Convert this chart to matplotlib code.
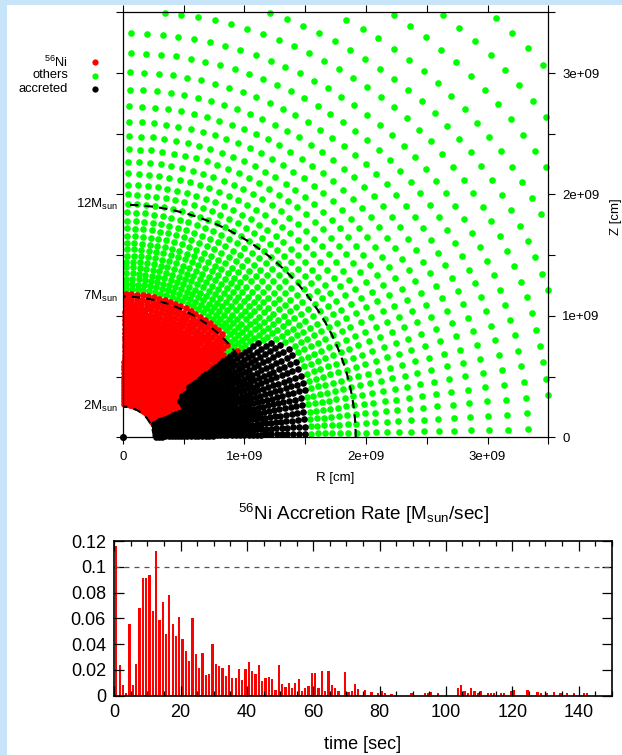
import numpy as np
import matplotlib.pyplot as plt
from matplotlib.patches import Arc, Rectangle
from matplotlib.lines import Line2D

plt.rcParams['font.family'] = ['Liberation Sans', 'DejaVu Sans']
plt.rcParams['mathtext.fontset'] = 'custom'
plt.rcParams['mathtext.rm'] = 'Liberation Sans'
plt.rcParams['mathtext.it'] = 'Liberation Sans:italic'

# ---- top panel: particle shells (radii in 1e9 cm), 40 rays per shell ----
shell_r = [0.275, 0.30, 0.325, 0.35, 0.375, 0.40, 0.425, 0.45, 0.475, 0.50,
           0.53, 0.56, 0.59, 0.62, 0.65, 0.68, 0.71, 0.74, 0.77, 0.80,
           0.83, 0.86, 0.895, 0.93, 0.965, 1.00, 1.035, 1.07, 1.105, 1.14,
           1.18, 1.222, 1.264, 1.308, 1.352, 1.401, 1.448, 1.497, 1.55, 1.602,
           1.66, 1.72, 1.783, 1.852, 1.923, 2.0, 2.08, 2.173, 2.27, 2.374,
           2.481, 2.599, 2.726, 2.863, 3.009, 3.166, 3.331, 3.515, 3.70, 3.90,
           4.13, 4.365, 4.62]
n_rays = 40

# per ray (from the R axis upward): accreted range and outer edge of 56Ni
acc_lo = [0] * 11 + [0.55, 0.55, 0.55, 0.56, 0.58, 0.68] + [9] * 23
acc_hi = [1.50] * 6 + [1.55] * 3 + [1.60] * 2 + [1.55, 1.55, 1.50, 1.45, 1.40, 1.15] + [0] * 23
ni_hi = [1.18] * 17 + [1.10, 1.14, 1.16] + [1.18] * 20

mass_labels = ['2M$_{\\rm sun}$', '7M$_{\\rm sun}$', '12M$_{\\rm sun}$']
mass_r = [0.252, 1.16, 1.915]

# ---- bottom panel: 56Ni accretion rate ----
t_sec = [0, 1, 2, 3, 4, 5, 6, 7, 8, 9, 10, 11, 12, 13, 14, 15, 16, 17, 18, 19,
         20, 21, 22, 23, 24, 25, 26, 27, 28, 29, 30, 31, 32, 33, 34, 35, 36, 37, 38, 39,
         40, 41, 42, 43, 44, 45, 46, 47, 48, 49, 50, 51, 52, 53, 54, 55, 56, 57, 58, 59,
         60, 61, 62, 63, 64, 65, 66, 67, 69, 70, 71, 72, 73, 75, 77, 79, 80, 81, 83, 89,
         93, 94, 95, 97, 103, 104, 105, 106, 107, 108, 109, 110, 112, 113, 114, 116, 117,
         119, 120, 124, 127, 128, 130, 132, 134, 136, 138, 141, 142]
rate = [0.116, 0.024, 0.0083, 0.002, 0.0556, 0.0083, 0.025, 0.068, 0.091, 0.091,
        0.094, 0.066, 0.112, 0.059, 0.073, 0.048, 0.078, 0.0556, 0.046, 0.061,
        0.044, 0.035, 0.027, 0.060, 0.032, 0.0215, 0.033, 0.016, 0.017, 0.040,
        0.025, 0.023, 0.0215, 0.015, 0.0235, 0.0137, 0.0137, 0.0207, 0.012, 0.0207,
        0.026, 0.019, 0.0168, 0.024, 0.0114, 0.0137, 0.0147, 0.0127, 0.0044, 0.0235,
        0.0088, 0.007, 0.010, 0.0062, 0.010, 0.0127, 0.0039, 0.0057, 0.0075, 0.0173,
        0.0173, 0.0062, 0.0189, 0.0039, 0.019, 0.0083, 0.0057, 0.0039, 0.0183, 0.0026,
        0.0036, 0.0093, 0.0049, 0.0044, 0.003, 0.0018, 0.0036, 0.0018, 0.0015, 0.0018,
        0.0018, 0.0018, 0.0026, 0.0018, 0.0057, 0.008, 0.0036, 0.002, 0.0057, 0.0036,
        0.0023, 0.0039, 0.002, 0.002, 0.0023, 0.002, 0.0023,
        0.0036, 0.0046, 0.0044, 0.0028, 0.002, 0.002, 0.003, 0.002, 0.002, 0.002, 0.002, 0.002]

fig = plt.figure(figsize=(6.22, 7.55), dpi=100)
fig.patch.set_facecolor('#c8e4f8')
fig.patches.append(Rectangle((7 / 622, 0), 1, 1 - 5 / 755, transform=fig.transFigure,
                             facecolor='white', edgecolor='none', zorder=-1))

ax = fig.add_axes([0.1977, 0.4208, 0.6838, 0.5629])
theta = (np.arange(n_rays) + 0.5) * (np.pi / 2) / n_rays
R, TH = np.meshgrid(np.array(shell_r), theta)
X = R * np.cos(TH)
Z = R * np.sin(TH)
lo = np.array(acc_lo)[:, None]
hi = np.array(acc_hi)[:, None]
ni = np.array(ni_hi)[:, None]
black = (R >= lo) & (R <= hi)
red = (R <= ni) & ~black
green = ~black & ~red
inside = (X <= 3.5) & (Z <= 3.5)

for mask, col in [(green, '#00ff00'), (red, '#ff0000'), (black, 'black')]:
    m = mask & inside
    ax.scatter(X[m], Z[m], s=23, c=col, linewidths=0, clip_on=False, zorder=2)
ax.scatter([0], [0], s=26, c='black', linewidths=0, clip_on=False, zorder=3)

for r in mass_r:
    ax.add_patch(Arc((0, 0), 2 * r, 2 * r, theta1=0, theta2=90, color='black',
                     lw=1.5, ls=(0, (4, 3)), zorder=4))
for r, lab in zip(mass_r, mass_labels):
    ax.text(-0.04, r, lab, ha='right', va='center', fontsize=9.5)

ax.set_xlim(0, 3.5)
ax.set_ylim(0, 3.5)
ax.set_xticks([0, 1, 2, 3])
ax.set_xticklabels(['0', '1e+09', '2e+09', '3e+09'])
ax.set_xticks([0.5, 1.5, 2.5, 3.5], minor=True)
ax.set_yticks([0, 1, 2, 3])
ax.set_yticklabels(['0', '1e+09', '2e+09', '3e+09'])
ax.set_yticks([0.5, 1.5, 2.5, 3.5], minor=True)
ax.tick_params(which='both', direction='out', length=5, width=0.8, top=True, right=True,
               labelleft=False, labelright=True, labelsize=9.5, pad=5)
ax.set_xlabel('R [cm]', fontsize=9.5, labelpad=6)
ax.yaxis.set_label_position('right')
ax.set_ylabel('Z [cm]', fontsize=9.5)
ax.yaxis.set_label_coords(1.145, 0.52)
for s in ax.spines.values():
    s.set_linewidth(0.9)

# legend outside on the left
for i, (lab, col) in enumerate([('$^{56}$Ni', '#ff0000'), ('others', '#00ff00'),
                                 ('accreted', 'black')]):
    y = 1 - (62 + 13.5 * i) / 755
    fig.text(68 / 622, y, lab, ha='right', va='center', fontsize=9.3)
    fig.add_artist(Line2D([95.2 / 622], [y], transform=fig.transFigure, marker='o',
                          markersize=4.5, markerfacecolor=col, markeredgewidth=0,
                          linestyle='none'))

# ---- bottom panel ----
ax2 = fig.add_axes([0.1838, 0.0785, 0.7996, 0.2049])
ax2.bar(np.array(t_sec) + 0.6, rate, width=0.68, color='#ff0000', linewidth=0)
ax2.axhline(0.1, color='#555555', lw=0.9, ls=(0, (4, 4)))
ax2.set_xlim(0, 150)
ax2.set_ylim(0, 0.12)
ax2.set_xticks(np.arange(0, 141, 20))
ax2.set_xticks(np.arange(0, 151, 5), minor=True)
ax2.set_yticks(np.arange(0, 0.121, 0.02))
ax2.set_yticklabels(['0', '0.02', '0.04', '0.06', '0.08', '0.1', '0.12'])
ax2.tick_params(which='both', direction='in', top=True, right=True, labelsize=13, width=0.9)
ax2.tick_params(which='major', length=7, pad=6)
ax2.tick_params(which='minor', length=3.5)
ax2.set_xlabel('time [sec]', fontsize=13, labelpad=11)
ax2.set_title('$^{56}$Ni Accretion Rate [M$_{\\rm sun}$/sec]', fontsize=13.6, pad=15)
for s in ax2.spines.values():
    s.set_linewidth(1.2)

fig.savefig('out.png', dpi=100)
